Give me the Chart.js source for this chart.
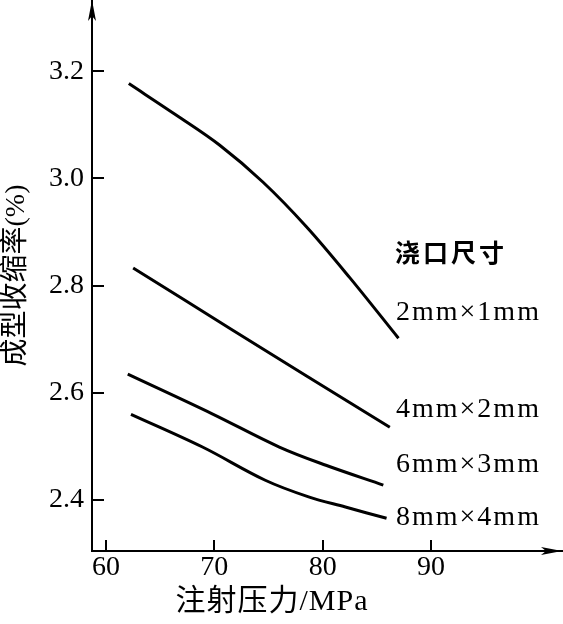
<!DOCTYPE html>
<html>
<head>
<meta charset="utf-8">
<script src="https://cdn.jsdelivr.net/npm/chart.js@4"></script>
<style>
html,body{margin:0;padding:0;background:#fff;}
#wrap{width:563px;height:624px;}
</style>
</head>
<body>
<div id="wrap"><canvas id="c" width="563" height="624"></canvas></div>
<script>
// ---- data ----
const seriesLabels = ['2mm×1mm', '4mm×2mm', '6mm×3mm', '8mm×4mm'];
const s1x = [62.1, 66.5, 70.5, 74.5, 78.5, 82.5, 87.0];
const s1y = [3.177, 3.118, 3.062, 2.993, 2.910, 2.815, 2.702];
const s2x = [62.5, 71.7, 78.4, 86.2];
const s2y = [2.833, 2.717, 2.633, 2.536];
const s3x = [62.0, 69.8, 76.0, 80.3, 85.6];
const s3y = [2.635, 2.561, 2.499, 2.465, 2.428];
const s4x = [62.3, 68.9, 74.7, 78.7, 82.1, 85.9];
const s4y = [2.560, 2.499, 2.437, 2.406, 2.387, 2.366];
const xTicks = [60, 70, 80, 90];
const yTicks = [2.4, 2.6, 2.8, 3.0, 3.2];
const legendTitle = '浇口尺寸';
const xTitle = '注射压力/MPa';
const yTitle = '成型收缩率(%)';

const FONT = "'Liberation Serif', 'Noto Sans CJK SC', serif";
const pts = (xs, ys) => xs.map((v, i) => ({x: v, y: ys[i]}));
const seriesX = [s1x, s2x, s3x, s4x];
const seriesY = [s1y, s2y, s3y, s4y];

const datasets = seriesLabels.map((lab, i) => ({
  label: lab,
  data: pts(seriesX[i], seriesY[i]),
  borderColor: '#000',
  borderWidth: 3,
  pointRadius: 0,
  fill: false,
  tension: 0.35,
  clip: false
}));

const deco = {
  id: 'deco',
  afterDraw(chart) {
    const {ctx, chartArea: a, scales: {x, y}} = chart;
    ctx.save();
    ctx.strokeStyle = '#000';
    ctx.fillStyle = '#000';
    ctx.lineWidth = 2;
    // inward tick marks
    yTicks.forEach(v => {
      const py = Math.round(y.getPixelForValue(v));
      ctx.beginPath(); ctx.moveTo(a.left, py); ctx.lineTo(a.left + 12, py); ctx.stroke();
    });
    xTicks.forEach(v => {
      const px = Math.round(x.getPixelForValue(v));
      ctx.beginPath(); ctx.moveTo(px, a.bottom); ctx.lineTo(px, a.bottom - 11); ctx.stroke();
    });
    // arrowheads
    ctx.beginPath();
    ctx.moveTo(a.left, a.top);
    ctx.lineTo(a.left - 4, a.top + 21);
    ctx.lineTo(a.left, a.top + 16);
    ctx.lineTo(a.left + 4, a.top + 21);
    ctx.closePath(); ctx.fill();
    ctx.beginPath();
    ctx.moveTo(a.right, a.bottom);
    ctx.lineTo(a.right - 21, a.bottom - 4);
    ctx.lineTo(a.right - 16, a.bottom);
    ctx.lineTo(a.right - 21, a.bottom + 4);
    ctx.closePath(); ctx.fill();
    // legend-like labels
    ctx.textAlign = 'left';
    ctx.textBaseline = 'middle';
    ctx.font = "bold 25px 'Noto Sans CJK SC'";
    ctx.letterSpacing = '3px';
    ctx.fillText(legendTitle, 395, 252);
    ctx.font = '28px ' + FONT;
    ctx.letterSpacing = '2px';
    const ly = [313, 410, 465, 518];
    seriesLabels.forEach((t, i) => ctx.fillText(t, 396, ly[i]));
    // x title
    ctx.textAlign = 'center';
    ctx.font = '30px ' + FONT;
    ctx.letterSpacing = '1px';
    ctx.fillText(xTitle, 272, 602);
    ctx.restore();
  }
};

new Chart(document.getElementById('c'), {
  type: 'line',
  data: {datasets},
  plugins: [deco],
  options: {
    responsive: false,
    animation: false,
    layout: {padding: {top: 0, right: 1, bottom: 0, left: 0}},
    plugins: {legend: {display: false}, tooltip: {enabled: false}},
    scales: {
      x: {
        type: 'linear',
        min: 58.7, max: 102.1,
        grid: {display: false, drawTicks: false},
        border: {display: true, color: '#000', width: 2},
        afterBuildTicks: s => { s.ticks = xTicks.map(v => ({value: v})); },
        afterFit: s => { s.height = 73; s.paddingLeft = 0; s.paddingRight = 0; },
        ticks: {color: '#000', padding: 0, maxRotation: 0, autoSkip: false,
                font: {family: FONT, size: 28}, callback: v => String(v)}
      },
      y: {
        type: 'linear',
        min: 2.305, max: 3.333,
        grid: {display: false, drawTicks: false},
        border: {display: true, color: '#000', width: 2},
        afterBuildTicks: s => { s.ticks = yTicks.map(v => ({value: v})); },
        afterFit: s => { s.width = 92; s.paddingTop = 0; s.paddingBottom = 0; },
        ticks: {color: '#000', padding: 8, autoSkip: false,
                font: {family: FONT, size: 28}, callback: v => Number(v).toFixed(1)},
        title: {display: true, text: yTitle, color: '#000', padding: {top: 0, bottom: 0},
                font: {family: FONT, size: 28}}
      }
    }
  }
});
</script>
</body>
</html>
